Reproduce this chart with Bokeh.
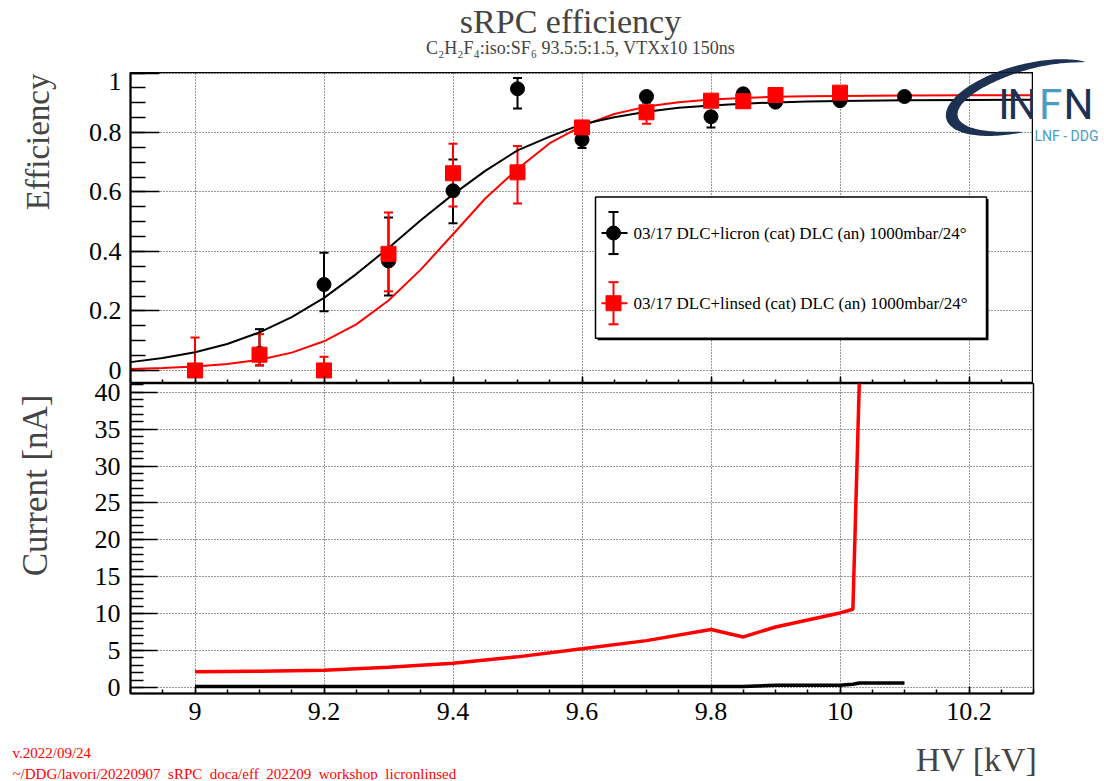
import numpy as np
from bokeh.plotting import figure
from bokeh.models import (ColumnDataSource, Range1d, FixedTicker, Label, Whisker, TeeHead,
                          CustomJSTickFormatter)
from bokeh.layouts import column, row
from bokeh.embed import file_html
from bokeh.resources import INLINE

# ---------------- data ----------------
# efficiency, DLC+licron (black)
hv_licron = [9.1, 9.2, 9.3, 9.4, 9.5, 9.6, 9.7, 9.8, 9.85, 9.9, 10.0, 10.1]
eff_licron = [0.057, 0.289, 0.368, 0.604, 0.947, 0.776, 0.921, 0.853, 0.930, 0.902, 0.907, 0.921]
err_lo_licron = [0.040, 0.090, 0.116, 0.109, 0.066, 0.028, 0.020, 0.036, 0.012, 0.015, 0.012, 0.012]
err_hi_licron = [0.082, 0.107, 0.146, 0.105, 0.036, 0.020, 0.015, 0.015, 0.012, 0.012, 0.012, 0.012]

# efficiency, DLC+linsed (red)
hv_linsed = [9.0, 9.1, 9.2, 9.3, 9.4, 9.5, 9.6, 9.7, 9.8, 9.85, 9.9, 10.0]
eff_linsed = [0.0, 0.053, 0.0, 0.392, 0.663, 0.666, 0.817, 0.868, 0.907, 0.905, 0.926, 0.934]
err_lo_linsed = [0.0, 0.036, 0.0, 0.126, 0.112, 0.105, 0.020, 0.039, 0.012, 0.020, 0.012, 0.012]
err_hi_linsed = [0.111, 0.069, 0.046, 0.139, 0.099, 0.089, 0.015, 0.039, 0.012, 0.020, 0.012, 0.012]

# fitted curves
fit_hv = [8.90, 8.95, 9.00, 9.05, 9.10, 9.15, 9.20, 9.25, 9.30, 9.35, 9.40, 9.45, 9.50,
          9.55, 9.60, 9.65, 9.70, 9.75, 9.80, 9.85, 9.90, 9.95, 10.00, 10.10, 10.20, 10.30]
fit_licron = [0.028, 0.042, 0.061, 0.089, 0.128, 0.179, 0.244, 0.324, 0.412, 0.505, 0.592, 0.671, 0.740,
              0.786, 0.828, 0.851, 0.870, 0.883, 0.891, 0.897, 0.901, 0.904, 0.906, 0.908, 0.909, 0.910]
fit_linsed = [0.005, 0.008, 0.013, 0.022, 0.036, 0.060, 0.098, 0.155, 0.235, 0.339, 0.458, 0.578, 0.677,
              0.764, 0.822, 0.862, 0.887, 0.902, 0.911, 0.916, 0.920, 0.922, 0.923, 0.924, 0.925, 0.925]

# currents
cur_hv_licron = [9.0, 9.1, 9.2, 9.3, 9.4, 9.5, 9.6, 9.7, 9.8, 9.85, 9.9, 10.0, 10.02, 10.03, 10.1]
cur_licron = [0.12, 0.12, 0.12, 0.12, 0.12, 0.12, 0.12, 0.12, 0.13, 0.13, 0.30, 0.30, 0.45, 0.62, 0.62]
cur_hv_linsed = [9.0, 9.1, 9.2, 9.3, 9.4, 9.5, 9.6, 9.7, 9.8, 9.85, 9.9, 10.0, 10.02, 10.03]
cur_linsed = [2.15, 2.20, 2.35, 2.75, 3.30, 4.15, 5.25, 6.35, 7.85, 6.85, 8.20, 10.1, 10.6, 41.5]

# axes
x_ticks = [9.0, 9.2, 9.4, 9.6, 9.8, 10.0, 10.2]
eff_ticks = [0.0, 0.2, 0.4, 0.6, 0.8, 1.0]
cur_ticks = [0, 5, 10, 15, 20, 25, 30, 35, 40]

title_text = "sRPC efficiency"
subtitle_text = "C₂H₂F₄:iso:SF₆ 93.5:5:1.5, VTXx10 150ns"
label_licron = "03/17 DLC+licron (cat) DLC (an) 1000mbar/24°"
label_linsed = "03/17 DLC+linsed (cat) DLC (an) 1000mbar/24°"
footer_version = "v.2022/09/24"
footer_path = "~/DDG/lavori/20220907_sRPC_doca/eff_202209_workshop_licronlinsed"

# ---------------- style / geometry (page pixels) ----------------
FONT = "Liberation Serif"
RED = "#ff0000"
NAVY = "#1d3153"
LBLUE = "#4a9cc4"
PAGE_W = 1104
LEFT_W = 70            # strip for rotated axis titles
FRAME_L, FRAME_R = 130, 1033
TOP_Y0, TOP_Y1 = 72, 383     # top panel canvas
BOT_Y0, BOT_Y1 = 383, 733    # bottom panel canvas (frame 383..693)
FOOT_Y1 = 780
X_RANGE = (8.9, 10.3)
EFF_PX0, EFF_PX_PER = 369.0, 296.5     # page y of eff=0, pixels per unit
CUR_PX0, CUR_PX_PER = 687.0, 7.3825    # page y of current=0, pixels per nA
EFF_RANGE = ((EFF_PX0 - 382.0) / EFF_PX_PER, (EFF_PX0 - 72.0) / EFF_PX_PER)
CUR_RANGE = ((CUR_PX0 - 693.0) / CUR_PX_PER, (CUR_PX0 - 383.0) / CUR_PX_PER)

x_minor = list(np.round(np.arange(8.9, 10.301, 0.05), 3))
eff_minor = list(np.round(np.arange(0.0, 1.001, 0.05), 3))
cur_minor = list(range(0, 42))

fmt_code = "return String(Math.round(tick*100)/100);"


def page_fig(x0, x1, y0, y1):
    """Blank figure whose data coordinates are page pixels."""
    p = figure(width=x1 - x0, height=y1 - y0, x_range=Range1d(x0, x1), y_range=Range1d(y1, y0),
               x_axis_type=None, y_axis_type=None, min_border=0,
               toolbar_location=None, output_backend="svg")
    p.outline_line_color = None
    p.background_fill_color = "white"
    p.border_fill_color = "white"
    return p


def plot_fig(w, h, yr, left, right, bottom):
    p = figure(width=w, height=h, x_range=Range1d(*X_RANGE), y_range=Range1d(*yr),
               output_backend="svg", toolbar_location=None,
               min_border_left=left, min_border_right=right,
               min_border_top=0, min_border_bottom=bottom)
    p.outline_line_color = "black"
    p.outline_line_width = 1.5
    p.background_fill_color = "white"
    p.border_fill_color = "white"
    for g in (p.xgrid, p.ygrid):
        g.grid_line_color = "#333333"
        g.grid_line_dash = "1 2"
        g.grid_line_width = 1
    for ax in (p.xaxis, p.yaxis):
        ax.axis_line_color = "black"
        ax.axis_line_width = 2
        ax.major_tick_line_color = "black"
        ax.minor_tick_line_color = "black"
        ax.major_tick_line_width = 1.5
        ax.minor_tick_line_width = 1.5
        ax.major_tick_out = 0
        ax.minor_tick_out = 0
        ax.major_label_text_font = FONT
        ax.major_label_text_font_size = "26px"
        ax.major_label_text_color = "black"
        ax.formatter = CustomJSTickFormatter(code=fmt_code)
    p.xaxis.ticker = FixedTicker(ticks=x_ticks, minor_ticks=x_minor)
    p.xaxis.major_tick_in = 7
    p.xaxis.minor_tick_in = 4
    return p


# page pixel -> top-panel data (legend / logo placement only)
def dx(px):
    return X_RANGE[0] + (np.asarray(px, dtype=float) - FRAME_L) * (X_RANGE[1] - X_RANGE[0]) / (FRAME_R - FRAME_L)

def dy(py):
    return (EFF_PX0 - np.asarray(py, dtype=float)) / EFF_PX_PER


# INFN logo swoosh outline in page pixels
def swoosh():
    th = np.linspace(np.radians(35), np.radians(262), 120)
    frac = (th - th[0]) / (th[-1] - th[0])
    wth = 12.5 * np.sin(np.pi * frac) ** 0.6
    a, b, phi = 82.0, 33.0, np.radians(15)
    cx, cy = 1025.0, 97.0
    def pts(aa, bb):
        lx, ly = aa * np.cos(th), bb * np.sin(th)
        X = lx * np.cos(phi) - ly * np.sin(phi)
        Y = lx * np.sin(phi) + ly * np.cos(phi)
        return cx + X, cy - Y
    ox, oy = pts(a, b)
    ix, iy = pts(a - wth, b - 0.7 * wth)
    return np.concatenate([ox, ix[::-1]]), np.concatenate([oy, iy[::-1]])


SW_X, SW_Y = swoosh()
LOGO_LETTERS = [("I", 1003.5, NAVY), ("N", 1022, NAVY), ("F", 1050, LBLUE), ("N", 1078, NAVY)]
LOGO_MID_Y = 104

# ---------------- header ----------------
p0 = page_fig(0, PAGE_W, 0, TOP_Y0)
p0.add_layout(Label(x=570, y=21, text=title_text, text_font=FONT, text_font_size="34px",
                    text_align="center", text_baseline="middle"))
p0.add_layout(Label(x=580, y=47, text=subtitle_text, text_font=FONT, text_font_size="18px",
                    text_align="center", text_baseline="middle"))
p0.patch(list(SW_X), list(SW_Y), fill_color=NAVY, line_color=None)

# ---------------- top panel ----------------
pl1 = page_fig(0, LEFT_W, TOP_Y0, TOP_Y1)
pl1.add_layout(Label(x=37, y=73, angle=np.pi / 2, text="Efficiency", text_font=FONT,
                     text_font_size="33px", text_align="right", text_baseline="middle"))

p1 = plot_fig(FRAME_R - LEFT_W, TOP_Y1 - TOP_Y0, EFF_RANGE, FRAME_L - LEFT_W, 0, 0)
p1.xaxis.formatter = CustomJSTickFormatter(code="return '';")
p1.xaxis.major_label_text_font_size = "1px"
p1.xaxis.major_label_standoff = 0
p1.yaxis.ticker = FixedTicker(ticks=eff_ticks, minor_ticks=eff_minor)
p1.yaxis.major_tick_in = 29
p1.yaxis.minor_tick_in = 15
p1.yaxis.major_label_standoff = 9

# legend box (shadow + box)
p1.quad(left=[float(dx(597))], right=[float(dx(988))], top=[float(dy(198))], bottom=[float(dy(339))],
        fill_color="black", line_color=None)
p1.quad(left=[float(dx(595))], right=[float(dx(986))], top=[float(dy(196))], bottom=[float(dy(337))],
        fill_color="white", line_color="black", line_width=1.5)

# fit curves
p1.line(fit_hv, fit_linsed, line_color=RED, line_width=2)
p1.line(fit_hv, fit_licron, line_color="black", line_width=2)


def errorbars(p, xs, ys, lo, hi, color):
    src = ColumnDataSource(dict(base=xs,
                                lower=[y - l for y, l in zip(ys, lo)],
                                upper=[y + h for y, h in zip(ys, hi)]))
    wsk = Whisker(source=src, base="base", lower="lower", upper="upper", dimension="height",
                  line_color=color, line_width=2,
                  upper_head=TeeHead(size=9, line_color=color, line_width=2),
                  lower_head=TeeHead(size=9, line_color=color, line_width=2))
    p.add_layout(wsk)


errorbars(p1, hv_licron, eff_licron, err_lo_licron, err_hi_licron, "black")
errorbars(p1, hv_linsed, eff_linsed, err_lo_linsed, err_hi_linsed, RED)
p1.scatter(hv_licron, eff_licron, marker="circle", size=14, fill_color="black", line_color="black")
p1.scatter(hv_linsed, eff_linsed, marker="square", size=15, fill_color=RED, line_color=RED)

# legend entries
for py, color, marker, size, text in ((232, "black", "circle", 14, label_licron),
                                      (302, RED, "square", 15, label_linsed)):
    ym = float(dy(py))
    xm = float(dx(613))
    p1.segment(x0=[xm], x1=[xm], y0=[float(dy(py - 21))], y1=[float(dy(py + 21))],
               line_color=color, line_width=2)
    p1.segment(x0=[float(dx(608)), float(dx(608))], x1=[float(dx(618)), float(dx(618))],
               y0=[float(dy(py - 21)), float(dy(py + 21))], y1=[float(dy(py - 21)), float(dy(py + 21))],
               line_color=color, line_width=2)
    p1.segment(x0=[float(dx(601))], x1=[float(dx(627))], y0=[ym], y1=[ym], line_color=color, line_width=2)
    p1.scatter([xm], [ym], marker=marker, size=size, fill_color=color, line_color=color)
    p1.add_layout(Label(x=float(dx(633)), y=ym, text=text, text_font=FONT, text_font_size="17px",
                        text_baseline="middle", text_align="left", text_color="black"))

# logo parts inside the top frame
p1.patch(list(dx(SW_X)), list(dy(SW_Y)), fill_color=NAVY, line_color=None)
for ch, cx, col in LOGO_LETTERS[:2]:
    p1.add_layout(Label(x=float(dx(cx)), y=float(dy(LOGO_MID_Y)), text=ch, text_font="Roboto",
                        text_font_size="42px", text_color=col, text_align="center",
                        text_baseline="middle"))

pr = page_fig(FRAME_R, PAGE_W, TOP_Y0, TOP_Y1)
pr.patch(list(SW_X), list(SW_Y), fill_color=NAVY, line_color=None)
for ch, cx, col in LOGO_LETTERS[2:]:
    pr.add_layout(Label(x=cx, y=LOGO_MID_Y, text=ch, text_font="Roboto", text_font_size="42px",
                        text_color=col, text_align="center", text_baseline="middle"))
pr.add_layout(Label(x=1066, y=135, text="LNF - DDG", text_font="Roboto", text_font_size="14px",
                    text_color=LBLUE, text_align="center", text_baseline="middle"))

# ---------------- bottom panel ----------------
pl2 = page_fig(0, LEFT_W, BOT_Y0, BOT_Y1)
pl2.add_layout(Label(x=35, y=498, angle=np.pi / 2, text="Current [nA]", text_font=FONT,
                     text_font_size="35px", text_align="center", text_baseline="middle"))

p2 = plot_fig(PAGE_W - LEFT_W, BOT_Y1 - BOT_Y0, CUR_RANGE, FRAME_L - LEFT_W, PAGE_W - FRAME_R, 40)
p2.yaxis.ticker = FixedTicker(ticks=cur_ticks, minor_ticks=cur_minor)
p2.yaxis.major_tick_in = 27
p2.yaxis.minor_tick_in = 13
p2.yaxis.major_label_standoff = 10
p2.xaxis.major_label_standoff = 9

p2.line(cur_hv_linsed, cur_linsed, line_color=RED, line_width=3.5)
p2.line(cur_hv_licron, cur_licron, line_color="black", line_width=3.5)

# ---------------- footer ----------------
p3 = page_fig(0, PAGE_W, BOT_Y1, FOOT_Y1)
p3.add_layout(Label(x=1037, y=759, text="HV [kV]", text_font=FONT, text_font_size="34px",
                    text_align="right", text_baseline="middle"))
p3.add_layout(Label(x=12, y=752, text=footer_version, text_font=FONT, text_font_size="15px",
                    text_color=RED, text_align="left", text_baseline="middle"))
p3.add_layout(Label(x=12, y=773, text=footer_path, text_font=FONT, text_font_size="15px",
                    text_color=RED, text_align="left", text_baseline="middle"))

layout = column(p0, row(pl1, p1, pr, spacing=0), row(pl2, p2, spacing=0), p3, spacing=0)
open("out.html", "w").write(file_html(layout, INLINE))
